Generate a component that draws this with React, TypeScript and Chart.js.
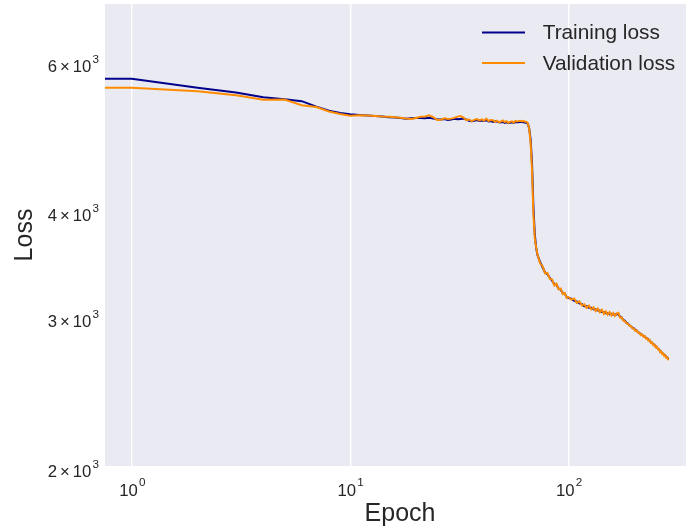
import { useEffect, useRef } from "react";
import { Chart, registerables } from "chart.js";

Chart.register(...registerables);

// Epoch index (0-based) of each logged value
const epochs = [
  0, 1, 2, 3, 4, 5, 6, 7, 8, 9,
  10, 11, 12, 13, 14, 15, 16, 17, 18, 19,
  20, 21, 22, 23, 24, 25, 26, 27, 28, 29,
  30, 31, 32, 33, 34, 35, 36, 37, 38, 39,
  40, 41, 42, 43, 44, 45, 46, 47, 48, 49,
  50, 51, 52, 53, 54, 55, 56, 57, 58, 59,
  60, 61, 62, 63, 64, 65, 66, 67, 68, 69,
  70, 71,
  72, 74, 76, 78, 80, 82, 84, 86, 88, 90, 92, 94, 96, 98, 100,
  103, 106, 109, 112, 115, 118, 121, 124, 127, 130,
  133, 136, 139, 142, 145, 148, 151, 154, 157, 160,
  163, 166, 169, 172, 175, 178, 181, 184, 187, 190,
  193, 196, 199, 202, 205, 208, 211, 214, 217, 220,
  223, 226, 229, 232, 235, 238, 241, 244, 247, 250,
  253, 256, 259, 262, 265, 268, 271, 274, 277, 280,
  283, 286,
];

const trainingLoss = [
  5715, 5715, 5578, 5505, 5437, 5408, 5379, 5300, 5240, 5210,
  5191, 5180, 5172, 5165, 5158, 5150, 5146, 5140, 5128, 5135,
  5138, 5140, 5136, 5142, 5130, 5122, 5118, 5125, 5112, 5118,
  5128, 5120, 5126, 5131, 5118, 5100, 5094, 5099, 5110, 5098,
  5103, 5096, 5108, 5090, 5098, 5085, 5094, 5088, 5080, 5076,
  5085, 5072, 5080, 5066, 5074, 5080, 5070, 5078, 5084, 5080,
  5085, 5082, 5080, 5076, 5072, 5062, 4995, 4850, 4540, 4040,
  3750, 3615,
  3545, 3478, 3428, 3380, 3365, 3332, 3305, 3275, 3268, 3236, 3226, 3196, 3190, 3162, 3154,
  3148, 3130, 3125, 3108, 3102, 3085, 3084, 3072, 3072, 3060,
  3060, 3048, 3048, 3036, 3036, 3026, 3028, 3018, 3022, 3014,
  3018, 3016, 3020, 2998, 2992, 2972, 2965, 2948, 2942, 2928,
  2922, 2908, 2904, 2892, 2888, 2874, 2869, 2858, 2855, 2844,
  2842, 2830, 2828, 2815, 2812, 2798, 2794, 2782, 2778, 2766,
  2762, 2750, 2745, 2732, 2728, 2716, 2712, 2702, 2700, 2688,
  2684, 2672,
];

const validationLoss = [
  5578, 5578, 5527, 5465, 5399, 5404, 5320, 5295, 5230, 5195,
  5169, 5178, 5175, 5168, 5160, 5155, 5150, 5142, 5132, 5125,
  5140, 5155, 5160, 5175, 5150, 5110, 5115, 5135, 5125, 5130,
  5140, 5158, 5165, 5145, 5110, 5118, 5095, 5112, 5125, 5105,
  5120, 5100, 5130, 5098, 5112, 5108, 5085, 5100, 5078, 5090,
  5105, 5082, 5095, 5070, 5085, 5092, 5075, 5098, 5090, 5095,
  5100, 5094, 5098, 5090, 5085, 5068, 4990, 4800, 4460, 3960,
  3710, 3620,
  3550, 3465, 3440, 3372, 3375, 3322, 3318, 3262, 3278, 3228, 3235, 3188, 3198, 3155, 3162,
  3140, 3150, 3112, 3125, 3090, 3100, 3070, 3090, 3058, 3075,
  3045, 3065, 3035, 3055, 3022, 3042, 3015, 3035, 3008, 3028,
  3005, 3025, 3030, 2990, 2992, 2968, 2962, 2945, 2940, 2925,
  2922, 2905, 2902, 2885, 2890, 2870, 2870, 2852, 2858, 2840,
  2845, 2825, 2828, 2810, 2815, 2792, 2795, 2776, 2780, 2760,
  2765, 2745, 2746, 2725, 2730, 2710, 2713, 2695, 2700, 2682,
  2684, 2664,
];

const xTicks = [1, 10, 100];
const yTicks = [2000, 3000, 4000, 6000];
const xRange = [0.754, 379];
const yRange = [2000, 7000];
const seriesNames = ["Training loss", "Validation loss"];
const seriesColors = ["#00008b", "#ff8c00"];

const FONT = '"Liberation Sans", Arial, Helvetica, sans-serif';
const TEXT = "#262626";
const PANEL = "#eaeaf2";
const TICK_PX = 16.7;
const SUP_PX = TICK_PX * 0.7;

// Draws "m × 10^e" (or "10^e" when m is 1) with a raised exponent
function drawPowerLabel(
  ctx: CanvasRenderingContext2D,
  value: number,
  x: number,
  baseline: number,
  align: "center" | "right",
  raise: number
) {
  const exp = Math.floor(Math.log10(value) + 1e-9);
  const mant = Math.round(value / Math.pow(10, exp));
  const base = `${TICK_PX}px ${FONT}`;
  const sup = `${SUP_PX}px ${FONT}`;
  const pieces: { t: string; font: string; gap: number; dy: number }[] = [];
  if (mant !== 1) {
    pieces.push({ t: String(mant), font: base, gap: 3, dy: 0 });
    pieces.push({ t: "\u00d7", font: base, gap: 3, dy: 0 });
  }
  pieces.push({ t: "10", font: base, gap: 1.2, dy: 0 });
  pieces.push({ t: String(exp), font: sup, gap: 0, dy: -raise });

  let total = 0;
  const widths = pieces.map((p) => {
    ctx.font = p.font;
    const w = ctx.measureText(p.t).width;
    total += w + p.gap;
    return w;
  });
  let cx = align === "right" ? x - total : x - total / 2;
  ctx.fillStyle = TEXT;
  ctx.textAlign = "left";
  ctx.textBaseline = "alphabetic";
  pieces.forEach((p, i) => {
    ctx.font = p.font;
    ctx.fillText(p.t, cx, baseline + p.dy);
    cx += widths[i] + p.gap;
  });
}

const panelBackground = {
  id: "panelBackground",
  beforeDraw(chart: Chart) {
    const { ctx, chartArea } = chart;
    ctx.save();
    ctx.fillStyle = PANEL;
    ctx.fillRect(chartArea.left, chartArea.top, chartArea.right - chartArea.left, chartArea.bottom - chartArea.top);
    ctx.restore();
  },
};

const powerTicks = {
  id: "powerTicks",
  afterDraw(chart: Chart) {
    const { ctx, chartArea, scales } = chart;
    ctx.save();
    xTicks.forEach((v) => {
      const px = scales.x.getPixelForValue(v);
      drawPowerLabel(ctx, v, px + 0.5, chartArea.bottom + 30, "center", 10);
    });
    yTicks.forEach((v) => {
      const py = scales.y.getPixelForValue(v);
      drawPowerLabel(ctx, v, chartArea.left - 6, py + 11, "right", 9);
    });
    ctx.restore();
  },
};

const cornerLegend = {
  id: "cornerLegend",
  afterDraw(chart: Chart) {
    const { ctx, chartArea } = chart;
    ctx.save();
    const lineStart = chartArea.right - 213;
    const lineEnd = chartArea.right - 170;
    const textX = chartArea.right - 152.3;
    seriesNames.forEach((name, i) => {
      const y = chartArea.top + 28.5 + i * 30.6;
      ctx.strokeStyle = seriesColors[i];
      ctx.lineWidth = 2;
      ctx.beginPath();
      ctx.moveTo(lineStart, y);
      ctx.lineTo(lineEnd, y);
      ctx.stroke();
      ctx.fillStyle = TEXT;
      ctx.font = `20.8px ${FONT}`;
      ctx.textAlign = "left";
      ctx.textBaseline = "middle";
      ctx.fillText(name, textX, y + 0.8);
    });
    ctx.restore();
  },
};

export default function App() {
  const canvasRef = useRef<HTMLCanvasElement | null>(null);

  useEffect(() => {
    document.body.style.margin = "0";
    document.body.style.overflow = "hidden";
    const canvas = canvasRef.current;
    if (!canvas) return;

    const toPoints = (values: number[]) => epochs.map((e, i) => ({ x: e, y: values[i] }));

    const chart = new Chart(canvas, {
      type: "line",
      data: {
        datasets: [
          {
            label: seriesNames[0],
            data: toPoints(trainingLoss),
            borderColor: seriesColors[0],
            borderWidth: 2,
            pointRadius: 0,
            tension: 0,
            fill: false,
            order: 1,
          },
          {
            label: seriesNames[1],
            data: toPoints(validationLoss),
            borderColor: seriesColors[1],
            borderWidth: 2,
            pointRadius: 0,
            tension: 0,
            fill: false,
            order: 0,
          },
        ],
      },
      options: {
        animation: false,
        responsive: false,
        maintainAspectRatio: false,
        events: [],
        layout: { padding: { top: 4, left: 0, right: 0, bottom: 0 } },
        plugins: {
          legend: { display: false },
          tooltip: { enabled: false },
        },
        scales: {
          x: {
            type: "logarithmic",
            min: xRange[0],
            max: xRange[1],
            afterBuildTicks: (scale: any) => {
              scale.ticks = xTicks.map((v) => ({ value: v }));
            },
            afterFit: (scale: any) => {
              scale.height = 64;
            },
            ticks: { display: false },
            grid: { color: "#ffffff", lineWidth: 1.4, drawTicks: false },
            border: { display: false },
            title: {
              display: true,
              text: "Epoch",
              color: TEXT,
              font: { family: FONT, size: 25 },
              padding: { top: 0, bottom: 1 },
            },
          },
          y: {
            type: "logarithmic",
            min: yRange[0],
            max: yRange[1],
            afterBuildTicks: (scale: any) => {
              scale.ticks = yTicks.map((v) => ({ value: v }));
            },
            afterFit: (scale: any) => {
              scale.width = 105;
            },
            ticks: { display: false },
            grid: { display: false },
            border: { display: false },
            title: {
              display: true,
              text: "Loss",
              color: TEXT,
              font: { family: FONT, size: 25 },
              padding: { top: 10, bottom: 0 },
            },
          },
        },
      },
      plugins: [panelBackground, powerTicks, cornerLegend],
    });

    return () => chart.destroy();
  }, []);

  return (
    <div style={{ width: 686, height: 530, overflow: "hidden" }}>
      <canvas ref={canvasRef} width={695} height={530} style={{ display: "block", width: 695, height: 530 }} />
    </div>
  );
}
